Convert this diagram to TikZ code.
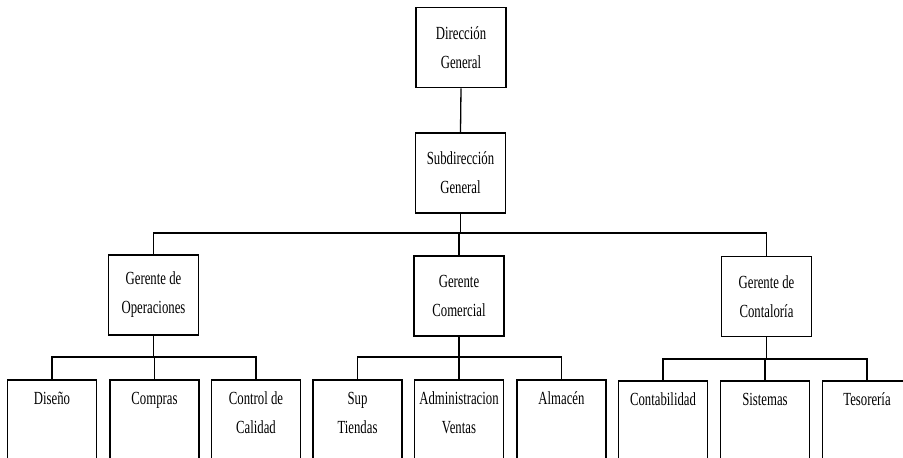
\documentclass[tikz,border=0pt]{standalone}
\usepackage{fontspec}
\setmainfont{Liberation Serif}[FakeStretch=0.69]
\begin{document}
\begin{tikzpicture}[x=1pt,y=-1pt,
  upbox/.style={draw, line width=1.8pt, minimum width=90pt, minimum height=80pt, inner sep=0pt, align=center, font=\fontsize{18.5}{29}\selectfont},
  lowbox/.style={draw, line width=1.8pt, inner sep=0pt, anchor=north, font=\fontsize{18.5}{29}\selectfont},
  conn/.style={line width=1.3pt}]
\useasboundingbox (0,0) rectangle (903,458);
\clip (0,0) rectangle (903,458);
\newcommand{\lowtxt}[1]{\parbox[c][110pt][t]{89pt}{\vspace*{12pt}\centering #1\par}}
\node[upbox] (dg) at (461,47.5) {Dirección\\General};
\node[upbox] (sdg) at (460.5,173) {Subdirección\\General};
\node[upbox] (go) at (153.5,295) {Gerente de\\Operaciones};
\node[upbox] (gc) at (459,296) {Gerente\\Comercial};
\node[upbox] (gct) at (766.5,296.5) {Gerente de\\Contaloría};
\node[lowbox] (dis) at (52,379) {\lowtxt{Diseño}};
\node[lowbox] (com) at (154.5,379) {\lowtxt{Compras}};
\node[lowbox] (cal) at (256,379) {\lowtxt{Control de\\Calidad}};
\node[lowbox] (sup) at (357.5,379) {\lowtxt{Sup\\Tiendas}};
\node[lowbox] (adm) at (459,379) {\lowtxt{Administracion\\Ventas}};
\node[lowbox] (alm) at (561.5,379) {\lowtxt{Almacén}};
\node[lowbox] (cont) at (663,380) {\lowtxt{Contabilidad}};
\node[lowbox] (sis) at (765,380) {\lowtxt{Sistemas}};
\node[lowbox] (tes) at (867,380) {\lowtxt{Tesorería}};
\coordinate (bus) at (0,233);
\coordinate (busa) at (0,357);
\coordinate (busb) at (0,357);
\coordinate (busc) at (0,359);
\draw[conn] (dg.south) -- (sdg.north);
\draw[conn] (sdg.south) -- (sdg.south |- bus);
\draw[conn] (go.north) -- (go.north |- bus) -- (gct.north |- bus) -- (gct.north);
\draw[conn] (gc.north) -- (gc.north |- bus);
\draw[conn] (go.south) -- (go.south |- busa);
\draw[conn] (dis.north) -- (dis.north |- busa) -- (cal.north |- busa) -- (cal.north);
\draw[conn] (com.north) -- (com.north |- busa);
\draw[conn] (gc.south) -- (gc.south |- busb);
\draw[conn] (sup.north) -- (sup.north |- busb) -- (alm.north |- busb) -- (alm.north);
\draw[conn] (adm.north) -- (adm.north |- busb);
\draw[conn] (gct.south) -- (gct.south |- busc);
\draw[conn] (cont.north) -- (cont.north |- busc) -- (tes.north |- busc) -- (tes.north);
\draw[conn] (sis.north) -- (sis.north |- busc);
\end{tikzpicture}
\end{document}
